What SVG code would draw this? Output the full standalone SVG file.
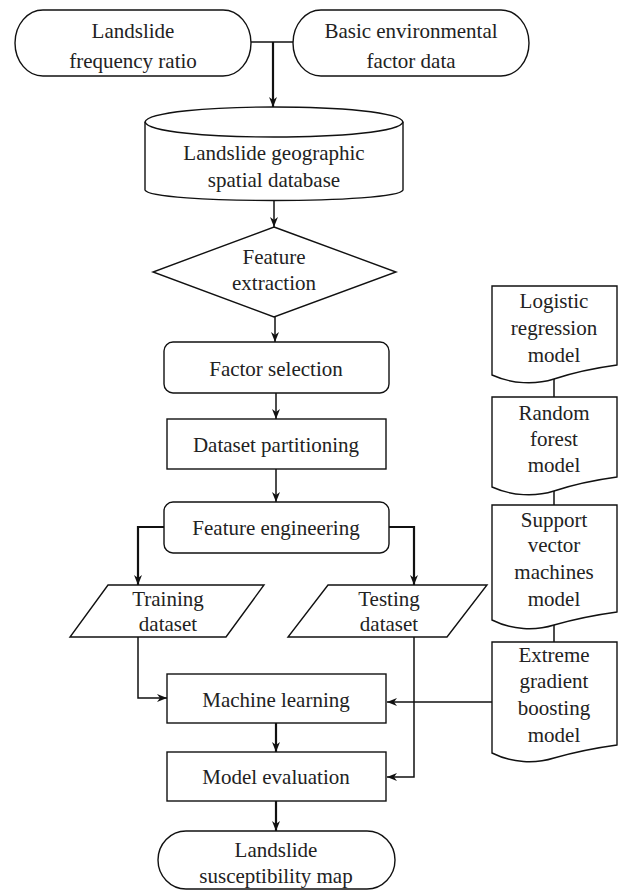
<svg xmlns="http://www.w3.org/2000/svg" width="621" height="891" viewBox="0 0 621 891">
<style>
.s{fill:#fff;stroke:#111;stroke-width:1.4}
.t{font-family:"Liberation Serif","Times New Roman",serif;font-size:21px;fill:#222;text-anchor:middle}
.c{fill:none;stroke:#111;stroke-width:1.5}
.k{fill:none;stroke:#111;stroke-width:2.2}
</style>
<defs>
<marker id="ah" viewBox="0 0 10 8" refX="10" refY="4" markerWidth="10" markerHeight="8" markerUnits="userSpaceOnUse" orient="auto">
<path d="M0,0 L10,4 L0,8 L3,4 z" fill="#111"/>
</marker>
</defs>
<rect width="621" height="891" fill="#fff"/>
<g id="connectors">
<path class="c" d="M251,42 H293"/>
<path class="k" d="M273,42 V107" marker-end="url(#ah)"/>
<path class="c" d="M274,200 V227" marker-end="url(#ah)"/>
<path class="c" d="M275,317 V342" marker-end="url(#ah)"/>
<path class="c" d="M276,393 V419" marker-end="url(#ah)"/>
<path class="c" d="M276,469 V502" marker-end="url(#ah)"/>
<path class="k" d="M164,527 H138 V585" marker-end="url(#ah)"/>
<path class="k" d="M389,527 H414 V585" marker-end="url(#ah)"/>
<path class="c" d="M138,637 V698 H167" marker-end="url(#ah)"/>
<path class="c" d="M414,637 V777 H387" marker-end="url(#ah)"/>
<path class="c" d="M492,702 H387" marker-end="url(#ah)"/>
<path class="k" d="M276,723 V752" marker-end="url(#ah)"/>
<path class="k" d="M276,801 V831" marker-end="url(#ah)"/>
<path class="c" d="M554,379 V397"/>
<path class="c" d="M554,491 V505"/>
<path class="c" d="M554,625 V642"/>
</g>
<g id="n-freq">
<path class="s" d="M43,10 H223 A28 33 0 0 1 223,76 H43 A28 33 0 0 1 43,10 Z"/>
<text class="t" x="133" y="38">Landslide</text>
<text class="t" x="133" y="68">frequency ratio</text>
</g>
<g id="n-basic">
<path class="s" d="M321,10 H501 A28 33 0 0 1 501,76 H321 A28 33 0 0 1 321,10 Z"/>
<text class="t" x="411" y="38">Basic environmental</text>
<text class="t" x="411" y="68">factor data</text>
</g>
<g id="n-db">
<path class="s" d="M145,122 C150,102 398,102 403,122 V190 C398,204 150,204 145,190 Z"/>
<path class="s" d="M145,122 C150,142 398,142 403,122" fill="none"/>
<text class="t" x="274" y="160">Landslide geographic</text>
<text class="t" x="274" y="187">spatial database</text>
</g>
<g id="n-extract">
<polygon class="s" points="274,227 396,272 274,317 153,272"/>
<text class="t" x="274" y="264">Feature</text>
<text class="t" x="274" y="290">extraction</text>
</g>
<g id="n-factor">
<rect class="s" x="164" y="342" width="225" height="51" rx="9"/>
<text class="t" x="276" y="376">Factor selection</text>
</g>
<g id="n-partition">
<rect class="s" x="167" y="419" width="219" height="50"/>
<text class="t" x="276" y="452">Dataset partitioning</text>
</g>
<g id="n-engineering">
<rect class="s" x="164" y="502" width="225" height="51" rx="9"/>
<text class="t" x="276" y="535">Feature engineering</text>
</g>
<g id="n-training">
<polygon class="s" points="108,585 264,585 226,637 70,637"/>
<text class="t" x="168" y="606">Training</text>
<text class="t" x="168" y="631">dataset</text>
</g>
<g id="n-testing">
<polygon class="s" points="328,585 487,585 447,637 288,637"/>
<text class="t" x="389" y="606">Testing</text>
<text class="t" x="389" y="631">dataset</text>
</g>
<g id="n-ml">
<rect class="s" x="167" y="674" width="219" height="49"/>
<text class="t" x="276" y="707">Machine learning</text>
</g>
<g id="n-eval">
<rect class="s" x="167" y="752" width="219" height="49"/>
<text class="t" x="276" y="784">Model evaluation</text>
</g>
<g id="n-map">
<path class="s" d="M186,831 H367 A28 29 0 0 1 367,889 H186 A28 29 0 0 1 186,831 Z"/>
<text class="t" x="276" y="857">Landslide</text>
<text class="t" x="276" y="883">susceptibility map</text>
</g>
<g id="n-lr">
<path class="s" d="M492,286 H617 V365 C595,368 575,372 554,379 C535,385 512,384 492,375 Z"/>
<text class="t" x="554" y="308">Logistic</text>
<text class="t" x="554" y="335">regression</text>
<text class="t" x="554" y="362">model</text>
</g>
<g id="n-rf">
<path class="s" d="M492,397 H617 V477 C595,480 575,484 554,491 C535,497 512,496 492,487 Z"/>
<text class="t" x="554" y="420">Random</text>
<text class="t" x="554" y="446">forest</text>
<text class="t" x="554" y="472">model</text>
</g>
<g id="n-svm">
<path class="s" d="M492,505 H617 V612 C595,615 575,619 554,625 C535,631 512,630 492,620 Z"/>
<text class="t" x="554" y="527">Support</text>
<text class="t" x="554" y="552">vector</text>
<text class="t" x="554" y="579">machines</text>
<text class="t" x="554" y="606">model</text>
</g>
<g id="n-xgb">
<path class="s" d="M492,642 H617 V745 C595,748 575,752 554,758 C535,764 512,763 492,753 Z"/>
<text class="t" x="554" y="662">Extreme</text>
<text class="t" x="554" y="688">gradient</text>
<text class="t" x="554" y="715">boosting</text>
<text class="t" x="554" y="742">model</text>
</g>
</svg>
